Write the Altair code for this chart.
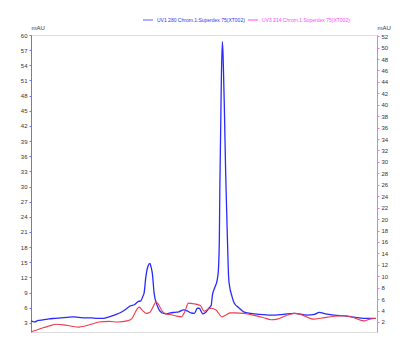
import altair as alt
import pandas as pd

# Blue trace: UV1 280 (left axis, mAU)
blue_x = [0.0, 0.3, 0.6, 1.0, 1.5, 2.0, 2.5, 3.0, 3.5, 4.0, 4.5, 5.0, 5.5, 6.0, 6.5, 7.0, 7.5,
          8.0, 8.3, 8.6, 8.9, 9.15, 9.3, 9.42, 9.56, 9.75, 9.9, 10.0, 10.1, 10.25, 10.5, 10.9,
          11.2, 11.6, 12.0, 12.3, 12.7, 13.0, 13.3, 13.6, 13.85, 14.0, 14.3, 14.55, 14.8, 15.0,
          15.1, 15.3, 15.5, 15.6, 15.68, 15.72, 15.78, 15.85, 15.93, 16.0, 16.1, 16.2, 16.3,
          16.38, 16.45, 16.55, 16.7, 16.9, 17.3, 17.7, 18.3, 19.0, 20.0, 21.0, 21.9, 23.0, 23.6,
          24.0, 24.5, 25.2, 26.3, 27.0, 27.7, 28.7]
blue_y = [3.4, 3.2, 3.5, 3.6, 3.8, 3.9, 4.0, 4.1, 4.2, 4.1, 4.0, 4.0, 3.9, 3.9, 4.2, 4.6, 5.1,
          5.9, 6.4, 6.6, 7.2, 7.4, 8.2, 9.0, 12.1, 14.3, 14.8, 14.0, 12.8, 8.85, 6.5, 5.0,
          4.8, 5.0, 5.1, 5.2, 5.6, 5.4, 5.0, 4.9, 5.9, 5.9, 4.8, 5.1, 5.9, 6.5,
          8.5, 10.0, 11.5, 13.5, 20.0, 30.0, 40.0, 52.0, 58.7, 55.0, 45.0, 33.0, 24.0,
          17.0, 12.0, 10.0, 8.5, 7.0, 6.0, 5.2, 4.9, 4.7, 4.55, 4.7, 4.9, 4.55, 4.7,
          5.1, 4.8, 4.55, 4.35, 4.1, 3.9, 3.9]

# Red trace: UV3 214 (right axis, mAU)
red_x = [0.0, 0.5, 1.0, 1.5, 2.1, 2.7, 3.3, 4.0, 4.5, 5.0, 5.65, 6.5, 7.2, 8.0, 8.4, 8.7, 9.0,
         9.3, 9.6, 9.9, 10.15, 10.4, 10.6, 10.95, 11.3, 11.6, 12.0, 12.5, 12.8, 13.1, 13.5,
         14.1, 14.4, 14.7, 15.0, 15.4, 15.9, 16.2, 16.6, 17.0, 17.7, 18.5, 19.3, 20.0, 20.5,
         21.2, 21.9, 22.6, 23.5, 24.2, 25.2, 26.0, 26.8, 27.7, 28.2, 28.7]
red_y = [0.3, 0.6, 1.0, 1.3, 1.6, 1.5, 1.3, 1.1, 1.3, 1.6, 2.0, 2.1, 2.0, 2.2, 2.6, 3.8, 4.6,
         4.0, 3.5, 3.7, 4.6, 5.5, 5.1, 3.8, 3.4, 3.3, 3.1, 2.9, 3.8, 5.3, 5.2,
         4.9, 3.9, 4.2, 4.4, 4.1, 2.9, 3.2, 3.6, 3.6, 3.5, 3.2, 2.8, 2.4, 2.5,
         3.1, 3.5, 3.2, 2.5, 2.7, 3.0, 3.1, 2.8, 2.2, 2.5, 2.6]

x_ticks = list(range(1, 29))
left_ticks = list(range(3, 61, 3))
right_ticks = list(range(2, 53, 2))
legend_labels = ["UV1 280 Chrom.1:Superdex 75(XT002)", "UV3 214 Chrom.1:Superdex 75(XT002)"]

W, H = 346, 297
FONT = "Liberation Sans"

blue = pd.DataFrame({"ml": blue_x, "mAU": blue_y})
red = pd.DataFrame({"ml": red_x, "mAU": red_y})

xscale = alt.Scale(domain=[0, 28.8], nice=False, zero=False)

xaxis = alt.Axis(values=x_ticks, labelExpr="datum.value % 4 == 0 ? datum.label : ''",
                 title="ml", titleAngle=0, titleX=W + 4, titleY=4, titleAlign="left",
                 titleBaseline="middle", titleFontSize=6, titleFontWeight="normal",
                 titleFont=FONT, titleColor="#333",
                 grid=False, domainColor="#222", tickColor="#222", tickSize=2,
                 labelFontSize=6, labelFont=FONT, labelColor="#333", labelPadding=3)

left_axis = alt.Axis(orient="left", values=left_ticks, grid=False,
                     domainColor="#6f6fff", tickColor="#6f6fff", tickSize=2,
                     labelFontSize=6, labelFont=FONT, labelColor="#333", labelPadding=2,
                     title="mAU", titleAngle=0, titleX=0, titleY=-5, titleAlign="left",
                     titleBaseline="bottom", titleFontSize=6, titleFontWeight="normal",
                     titleFont=FONT, titleColor="#333")

right_axis = alt.Axis(orient="right", values=right_ticks, grid=False,
                      domainColor="#e27ae2", tickColor="#e27ae2", tickSize=2,
                      labelFontSize=6, labelFont=FONT, labelColor="#333", labelPadding=2,
                      title="mAU", titleAngle=0, titleX=0, titleY=-5, titleAlign="left",
                      titleBaseline="bottom", titleFontSize=6, titleFontWeight="normal",
                      titleFont=FONT, titleColor="#333")

b = alt.Chart(blue).mark_line(color="#2a2aff", strokeWidth=1.3, interpolate="monotone").encode(
    x=alt.X("ml:Q", scale=xscale, axis=xaxis),
    y=alt.Y("mAU:Q", scale=alt.Scale(domain=[1.2, 60], nice=False, zero=False), axis=left_axis),
)

r = alt.Chart(red).mark_line(color="#f03c4c", strokeWidth=1.1, interpolate="monotone").encode(
    x=alt.X("ml:Q", scale=xscale, axis=None),
    y=alt.Y("mAU:Q", scale=alt.Scale(domain=[0.25, 52.2], nice=False, zero=False), axis=right_axis),
)

leg_df = pd.DataFrame({"lab": [legend_labels[0]]})
leg_df2 = pd.DataFrame({"lab": [legend_labels[1]]})

leg1_line = alt.Chart(leg_df).mark_rule(color="#7a7aff", strokeWidth=1.2).encode(
    x=alt.value(112), x2=alt.value(122), y=alt.value(-15))
leg1_text = alt.Chart(leg_df).mark_text(align="left", baseline="middle", fontSize=5,
                                        font=FONT, color="#3030ff").encode(
    x=alt.value(126), y=alt.value(-15), text="lab:N")
leg2_line = alt.Chart(leg_df2).mark_rule(color="#ff66ff", strokeWidth=1.2).encode(
    x=alt.value(217), x2=alt.value(227), y=alt.value(-15))
leg2_text = alt.Chart(leg_df2).mark_text(align="left", baseline="middle", fontSize=5,
                                         font=FONT, color="#ff44ff").encode(
    x=alt.value(231), y=alt.value(-15), text="lab:N")

chart = alt.layer(b, r, leg1_line, leg1_text, leg2_line, leg2_text).resolve_scale(
    y="independent"
).properties(
    width=W, height=H,
    autosize=alt.AutoSizeParams(type="none"),
    padding={"left": 31, "top": 35, "right": 34, "bottom": 22},
).configure_view(stroke=None).configure(background="white")

chart.save("out.html", embed_options={"renderer": "svg", "actions": False})
